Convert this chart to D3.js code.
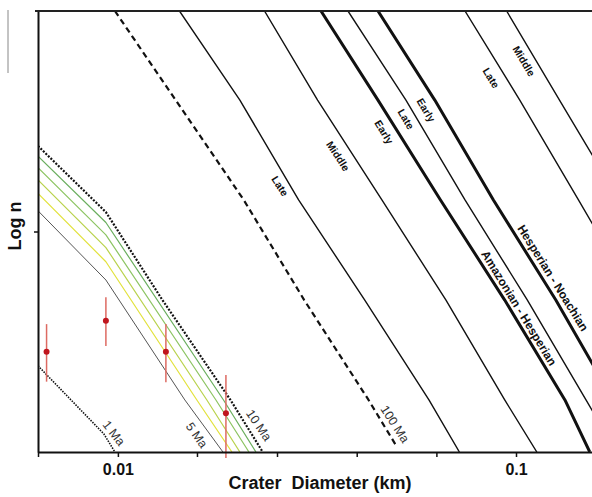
<!DOCTYPE html>
<html>
<head>
<meta charset="utf-8">
<script src="https://cdn.jsdelivr.net/npm/d3@7"></script>
<style>
	body { margin: 0; background: #fff; }
	svg { display: block; font-family: 'Liberation Sans', Arial, sans-serif; }
</style>
</head>
<body>
<svg id="chart"></svg>
<script>
// axis ticks (crater diameter in km)
const xTickValues = [0.0063, 0.01, 0.0158, 0.0251, 0.0398, 0.0631, 0.1];
const xTickLabels = ['0.01', '0.1'];
const yTickValues = [1];

// young isochrons, points are [diameter km, log n]
const iso1Ma = [[0.0063, 0.391], [0.00922, 0.082], [0.00983, 0]];
const iso5Ma = [[0.0063, 1.094], [0.00933, 0.78], [0.01473, 0.236], [0.01836, 0]];
const iso6Ma = [[0.0063, 1.173], [0.00933, 0.863], [0.01579, 0.236], [0.01934, 0]];
const iso7Ma = [[0.0063, 1.234], [0.00933, 0.927], [0.01673, 0.236], [0.02025, 0]];
const iso8Ma = [[0.0063, 1.289], [0.00933, 0.985], [0.01763, 0.236], [0.02134, 0]];
const iso9Ma = [[0.0063, 1.342], [0.00933, 1.041], [0.01842, 0.236], [0.02222, 0]];
const iso10Ma = [[0.0063, 1.388], [0.00933, 1.088], [0.01294, 0.689], [0.01918, 0.236], [0.02311, 0]];
const iso100Ma = [[0.00983, 2.0], [0.01397, 1.596], [0.02071, 1.143], [0.02938, 0.689], [0.04262, 0.236], [0.05023, 0.023]];

// epoch boundaries
const lateAmazonian = [[0.01428, 2.0], [0.02025, 1.596], [0.02844, 1.143], [0.0417, 0.689], [0.06044, 0.236], [0.07208, 0]];
const middleAmazonian = [[0.02335, 2.0], [0.03174, 1.596], [0.04604, 1.143], [0.0667, 0.689], [0.09368, 0.236], [0.1128, 0]];
const amazonianHesperian = [[0.03237, 2.0], [0.04501, 1.596], [0.06461, 1.143], [0.09368, 0.689], [0.1327, 0.236], [0.1532, 0]];
const lateHesperian = [[0.03784, 2.0], [0.05291, 1.596], [0.07445, 1.143], [0.1068, 0.689], [0.1499, 0.236], [0.1788, 0]];
const hesperianNoachian = [[0.04501, 2.0], [0.06252, 1.596], [0.08774, 1.143], [0.1259, 0.689], [0.1552, 0.404], [0.2085, 0]];
const lateNoachian = [[0.07445, 2.0], [0.1022, 1.596], [0.1435, 1.143], [0.2017, 0.689]];
const middleNoachian = [[0.09471, 2.0], [0.1286, 1.596], [0.1815, 1.143]];

// counted craters with error bars
const craterD = [0.00662, 0.00933, 0.0132, 0.01868];
const craterLogN = [0.455, 0.595, 0.455, 0.176];
const craterLow = [0.319, 0.481, 0.316, -0.027];
const craterHigh = [0.58, 0.702, 0.58, 0.349];

// annotations
const isoLabels = ['1 Ma', '5 Ma', '10 Ma', '100 Ma'];
const isoLabelD = [0.009771, 0.01579, 0.02261, 0.04966];
const isoLabelN = [0.086, 0.077, 0.122, 0.127];
const epochLabels = ['Late', 'Middle', 'Early', 'Late', 'Early', 'Late', 'Middle', 'Amazonian - Hesperian', 'Hesperian - Noachian'];
const epochLabelD = [0.02553, 0.03571, 0.0466, 0.05291, 0.0594, 0.08654, 0.1047, 0.1018, 0.1239];
const epochLabelN = [1.206, 1.342, 1.451, 1.51, 1.551, 1.696, 1.773, 0.653, 0.789];

class CraterChart {
	constructor(_config) {
		this.config = {
			parentElement: _config.parentElement,
			containerWidth: 592,
			containerHeight: 497,
			margin: { top: 11, right: 0, bottom: 45, left: 38 },
		};
		this.initVis();
	}

	initVis() {
		let vis = this;

		vis.width = vis.config.containerWidth - vis.config.margin.left - vis.config.margin.right;
		vis.height = vis.config.containerHeight - vis.config.margin.top - vis.config.margin.bottom;

		vis.svg = d3
			.select(vis.config.parentElement)
			.attr('width', vis.config.containerWidth)
			.attr('height', vis.config.containerHeight);

		vis.chart = vis.svg
			.append('g')
			.attr('transform', `translate(${vis.config.margin.left},${vis.config.margin.top})`);

		vis.xScale = d3.scaleLog().domain([0.0063, 0.1552]).range([0, vis.width]);
		vis.yScale = d3.scaleLinear().domain([0, 2]).range([vis.height, 0]);

		vis.svg
			.append('defs')
			.append('clipPath')
			.attr('id', 'plot-clip')
			.append('rect')
			.attr('width', vis.width)
			.attr('height', vis.height);

		vis.linesG = vis.chart.append('g').attr('clip-path', 'url(#plot-clip)');
		vis.labelsG = vis.chart.append('g');
		vis.pointsG = vis.chart.append('g');

		vis.line = d3
			.line()
			.x((d) => vis.xScale(d[0]))
			.y((d) => vis.yScale(d[1]));

		// top frame and odd grey stroke left of the axis title
		vis.svg
			.append('line')
			.attr('x1', 35)
			.attr('x2', vis.config.containerWidth)
			.attr('y1', vis.config.margin.top)
			.attr('y2', vis.config.margin.top)
			.attr('stroke', '#222')
			.attr('stroke-width', 2);

		vis.svg
			.append('line')
			.attr('x1', 8)
			.attr('x2', 8)
			.attr('y1', 10)
			.attr('y2', 73)
			.attr('stroke', '#888')
			.attr('stroke-width', 1);

		// axes
		vis.xAxis = d3
			.axisBottom(vis.xScale)
			.tickValues(xTickValues)
			.tickSizeInner(5)
			.tickSizeOuter(0)
			.tickPadding(7)
			.tickFormat((d) => xTickLabels.find((l) => Math.abs(+l - d) < 1e-6) || '');

		vis.yAxis = d3
			.axisLeft(vis.yScale)
			.tickValues(yTickValues)
			.tickSizeInner(4)
			.tickSizeOuter(0)
			.tickFormat('');

		vis.xAxisG = vis.chart
			.append('g')
			.attr('transform', `translate(0,${vis.height})`)
			.call(vis.xAxis);

		vis.yAxisG = vis.chart.append('g').call(vis.yAxis);

		[vis.xAxisG, vis.yAxisG].forEach((g) => {
			g.select('.domain').attr('stroke', '#111').attr('stroke-width', 2);
			g.selectAll('.tick line').attr('stroke', '#111').attr('stroke-width', 1.5);
		});

		vis.xAxisG
			.selectAll('text')
			.attr('fill', '#111')
			.style('font-size', '16px')
			.style('font-weight', 'bold')
			.style('font-family', "'Liberation Sans', Arial, sans-serif");

		vis.svg
			.append('text')
			.attr('x', 320)
			.attr('y', 489)
			.attr('text-anchor', 'middle')
			.style('font-size', '18px')
			.style('font-weight', 'bold')
			.style('white-space', 'pre')
			.attr('fill', '#111')
			.text('Crater  Diameter (km)');

		vis.svg
			.append('text')
			.attr('transform', 'translate(21,226) rotate(-90)')
			.attr('text-anchor', 'middle')
			.style('font-size', '18px')
			.style('font-weight', 'bold')
			.attr('fill', '#111')
			.text('Log n');
	}

	updateVis() {
		let vis = this;

		vis.lineData = [
			{ pts: iso1Ma, stroke: '#111', width: 1.6, dash: '1.5,1.2' },
			{ pts: iso5Ma, stroke: '#555', width: 1 },
			{ pts: iso6Ma, stroke: '#e2e23c', width: 1.2 },
			{ pts: iso7Ma, stroke: '#b9d24c', width: 1.2 },
			{ pts: iso8Ma, stroke: '#8cc462', width: 1.2 },
			{ pts: iso9Ma, stroke: '#6aae5e', width: 1.2 },
			{ pts: iso10Ma, stroke: '#111', width: 2.2, dash: '2,1.5' },
			{ pts: iso100Ma, stroke: '#111', width: 2.2, dash: '6,4' },
			{ pts: lateAmazonian, stroke: '#111', width: 1.4 },
			{ pts: middleAmazonian, stroke: '#111', width: 1.4 },
			{ pts: amazonianHesperian, stroke: '#111', width: 3 },
			{ pts: lateHesperian, stroke: '#111', width: 1.4 },
			{ pts: hesperianNoachian, stroke: '#111', width: 3 },
			{ pts: lateNoachian, stroke: '#111', width: 1.4 },
			{ pts: middleNoachian, stroke: '#111', width: 1.4 },
		];

		vis.isoText = isoLabels.map((t, i) => ({
			text: t, d: isoLabelD[i], n: isoLabelN[i], angle: [52, 55, 56, 57][i],
		}));

		vis.epochText = epochLabels.map((t, i) => ({
			text: t, d: epochLabelD[i], n: epochLabelN[i],
			angle: [57, 57, 58, 59, 59, 58, 59, 58.5, 58][i],
			size: i > 6 ? 12 : 10.5,
		}));

		vis.craters = craterD.map((d, i) => ({
			d, n: craterLogN[i], lo: craterLow[i], hi: craterHigh[i],
		}));

		vis.renderVis();
	}

	renderVis() {
		let vis = this;

		vis.linesG
			.selectAll('.iso-line')
			.data(vis.lineData)
			.join('path')
			.attr('class', 'iso-line')
			.attr('d', (d) => vis.line(d.pts))
			.attr('fill', 'none')
			.attr('stroke', (d) => d.stroke)
			.attr('stroke-width', (d) => d.width)
			.attr('stroke-linejoin', 'round')
			.attr('stroke-dasharray', (d) => d.dash || null);

		vis.labelsG
			.selectAll('.iso-label')
			.data(vis.isoText)
			.join('text')
			.attr('class', 'iso-label')
			.attr('transform', (d) => `translate(${vis.xScale(d.d)},${vis.yScale(d.n)}) rotate(${d.angle})`)
			.attr('text-anchor', 'middle')
			.attr('dy', '0.35em')
			.style('font-size', '12.5px')
			.attr('fill', '#333')
			.text((d) => d.text);

		vis.labelsG
			.selectAll('.epoch-label')
			.data(vis.epochText)
			.join('text')
			.attr('class', 'epoch-label')
			.attr('transform', (d) => `translate(${vis.xScale(d.d)},${vis.yScale(d.n)}) rotate(${d.angle})`)
			.attr('text-anchor', 'middle')
			.attr('dy', '0.35em')
			.style('font-size', (d) => d.size + 'px')
			.style('font-weight', 'bold')
			.attr('fill', '#111')
			.text((d) => d.text);

		vis.pointsG
			.selectAll('.err-bar')
			.data(vis.craters)
			.join('line')
			.attr('class', 'err-bar')
			.attr('x1', (d) => vis.xScale(d.d))
			.attr('x2', (d) => vis.xScale(d.d))
			.attr('y1', (d) => vis.yScale(d.lo))
			.attr('y2', (d) => vis.yScale(d.hi))
			.attr('stroke', '#dd6a62')
			.attr('stroke-width', 1.5);

		vis.pointsG
			.selectAll('.crater-pt')
			.data(vis.craters)
			.join('circle')
			.attr('class', 'crater-pt')
			.attr('cx', (d) => vis.xScale(d.d))
			.attr('cy', (d) => vis.yScale(d.n))
			.attr('r', 3)
			.attr('fill', '#c0161e');
	}
}

const chart = new CraterChart({ parentElement: '#chart' });
chart.updateVis();
</script>
</body>
</html>
